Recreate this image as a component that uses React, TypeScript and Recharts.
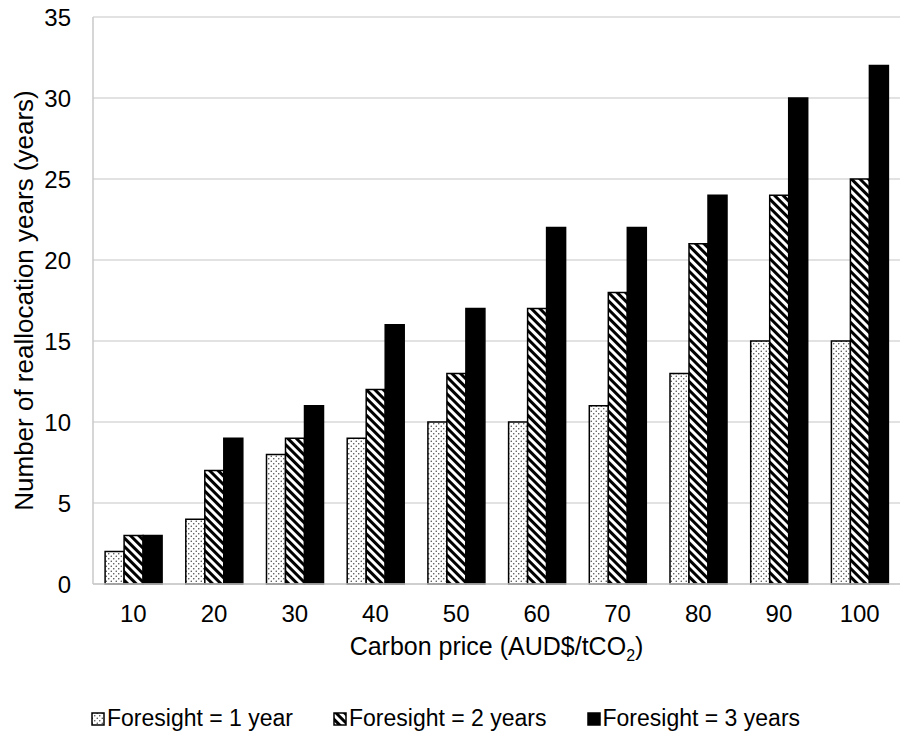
import React from 'react';
import { BarChart, Bar, XAxis, YAxis, CartesianGrid, Legend } from 'recharts';

const categories = ['10', '20', '30', '40', '50', '60', '70', '80', '90', '100'];
const foresight1 = [2, 4, 8, 9, 10, 10, 11, 13, 15, 15];
const foresight2 = [3, 7, 9, 12, 13, 17, 18, 21, 24, 25];
const foresight3 = [3, 9, 11, 16, 17, 22, 22, 24, 30, 32];
const yTicks = [0, 5, 10, 15, 20, 25, 30, 35];
const seriesNames = ['Foresight = 1 year', 'Foresight = 2 years', 'Foresight = 3 years'];
const seriesKeys = ['f1', 'f2', 'f3'];
const seriesFills = ['url(#dots)', 'url(#stripes)', '#000000'];

const data = categories.map((c, i) => ({
  price: c,
  f1: foresight1[i],
  f2: foresight2[i],
  f3: foresight3[i],
}));

const FONT = '"Liberation Sans", Arial, sans-serif';

const LegendContent = () => (
  <div style={{ display: 'flex', fontFamily: FONT, fontSize: 23, color: '#000', whiteSpace: 'nowrap' }}>
    {seriesNames.map((name, i) => (
      <div key={name} style={{ display: 'flex', alignItems: 'center', marginRight: i < 2 ? 40 : 0 }}>
        <svg width={14} height={14} style={{ marginRight: 2 }}>
          <rect x={1} y={1} width={12} height={12} fill={seriesFills[i]} stroke="#000" strokeWidth={1.5} />
        </svg>
        <span>{name}</span>
      </div>
    ))}
  </div>
);

export default function App() {
  return (
    <div style={{ position: 'absolute', left: 0, top: 0, width: 901, height: 733, background: '#fff' }}>
      <BarChart
        width={901}
        height={733}
        data={data}
        margin={{ top: 17, right: 1, left: 0, bottom: 0 }}
        barCategoryGap="15%"
        barGap={0}
      >
        <defs>
          <pattern id="dots" patternUnits="userSpaceOnUse" width={5} height={5}>
            <rect x={0} y={0} width={5} height={5} fill="#ffffff" />
            <circle cx={1.25} cy={1.25} r={0.75} fill="#444" />
            <circle cx={3.75} cy={3.75} r={0.75} fill="#444" />
          </pattern>
          <pattern id="stripes" patternUnits="userSpaceOnUse" width={6} height={6} patternTransform="rotate(-45)">
            <rect x={0} y={0} width={6} height={6} fill="#ffffff" />
            <rect x={0} y={0} width={3} height={6} fill="#000000" />
          </pattern>
        </defs>
        <CartesianGrid horizontal vertical={false} stroke="#d9d9d9" strokeWidth={1.5} />
        <XAxis
          dataKey="price"
          height={149}
          tickLine={false}
          tickSize={0}
          tickMargin={21}
          axisLine={{ stroke: '#c8c8c8', strokeWidth: 1.5 }}
          tick={{ fill: '#000', fontSize: 24, fontFamily: FONT }}
          interval={0}
          label={{
            content: (props: any) => {
              const vb = props.viewBox || {};
              return (
                <text
                  x={vb.x + vb.width / 2}
                  y={vb.y + 71}
                  textAnchor="middle"
                  fill="#000"
                  fontSize={25}
                  fontFamily={FONT}
                >
                  <tspan>Carbon price (AUD$/tCO</tspan>
                  <tspan dy={6} fontSize={16}>2</tspan>
                  <tspan dy={-6}>)</tspan>
                </text>
              );
            },
          }}
        />
        <YAxis
          width={93}
          domain={[0, 35]}
          ticks={yTicks}
          interval={0}
          tickLine={false}
          tickSize={0}
          tickMargin={22}
          axisLine={{ stroke: '#c8c8c8', strokeWidth: 1.5 }}
          tick={{ fill: '#000', fontSize: 24, fontFamily: FONT }}
          label={{
            content: (props: any) => {
              const vb = props.viewBox || {};
              const cx = vb.x + 33;
              const cy = vb.y + vb.height / 2;
              return (
                <text
                  x={cx}
                  y={cy}
                  transform={`rotate(-90 ${cx} ${cy})`}
                  textAnchor="middle"
                  fill="#000"
                  fontSize={26}
                  fontFamily={FONT}
                >
                  Number of reallocation years (years)
                </text>
              );
            },
          }}
        />
        <Legend
          verticalAlign="middle"
          layout="horizontal"
          content={<LegendContent />}
          wrapperStyle={{ top: 705, left: 91, width: 810 }}
        />
        {seriesKeys.map((k, i) => (
          <Bar
            key={k}
            dataKey={k}
            name={seriesNames[i]}
            fill={seriesFills[i]}
            stroke="#000"
            strokeWidth={1.5}
            isAnimationActive={false}
          />
        ))}
      </BarChart>
    </div>
  );
}
